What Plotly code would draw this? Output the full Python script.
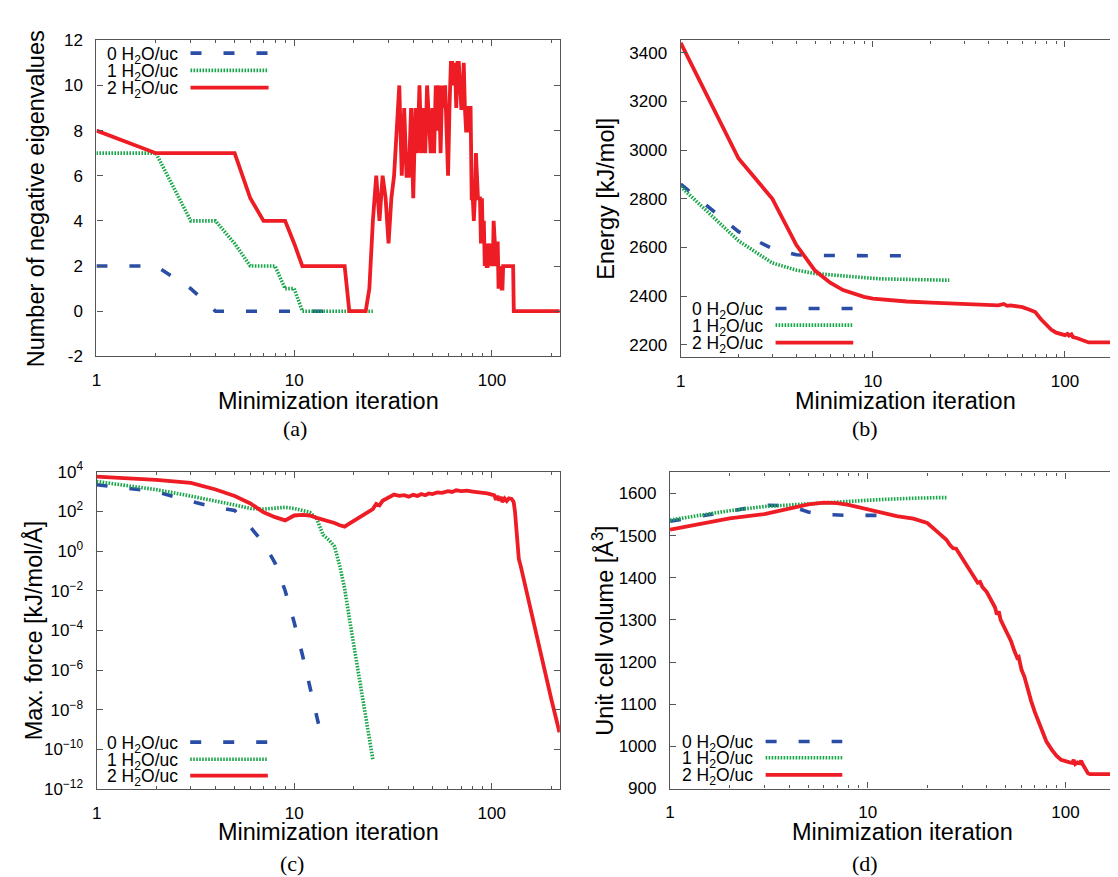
import math
import plotly.graph_objects as go

W, H = 1118, 877

# ---------------- data ----------------
# (a) number of negative eigenvalues
A_IT0 = [1, 2, 3, 4, 5, 6, 7, 8, 9, 10, 11, 12, 13, 14]
A_NEG0 = [2, 2, 1, 0, 0, 0, 0, 0, 0, 0, 0, 0, 0, 0]
A_IT1 = [1, 2, 3, 4, 5, 6, 7, 8, 9, 10, 11, 12, 13, 14, 15, 16, 17, 18, 19, 20, 21, 22, 23, 24, 25]
A_NEG1 = [7, 7, 4, 4, 3, 2, 2, 2, 1, 1, 0, 0, 0, 0, 0, 0, 0, 0, 0, 0, 0, 0, 0, 0, 0]
A_IT2 = list(range(1, 131)) + [220]
A_NEG2 = [8, 7, 7, 7, 7, 5, 4, 4, 4, 3,
          2, 2, 2, 2, 2, 2, 2, 2, 0, 0,
          0, 0, 0, 1, 4, 6, 4, 6, 5, 3,
          5, 6, 8, 10, 6, 9, 6, 6, 9, 5,
          9, 7, 10, 7, 9, 7, 10, 8, 7, 9,
          7, 10, 8, 10, 7, 10, 9, 10, 8, 6,
          9, 11, 11, 10, 11, 9, 11, 11, 10, 9,
          9, 11, 9, 8, 8, 9, 9, 9, 5, 5,
          4, 5, 7, 6, 5, 5, 5, 3, 5, 3,
          4, 2, 3, 2, 2, 3, 2, 2, 3, 2,
          2, 4, 3, 2, 2, 3, 3, 1, 2, 1,
          2, 1, 1, 2, 2, 2, 2, 2, 2, 2,
          2, 2, 2, 2, 2, 2, 2, 2, 0, 0,
          0]

# (b) energy [kJ/mol]
B_IT0 = A_IT0
B_E0 = [2860, 2665, 2595, 2570, 2567, 2566, 2566, 2566, 2566, 2566, 2566, 2566, 2566, 2566]
B_IT1 = A_IT1
B_E1 = [2850, 2627, 2536, 2507, 2493, 2487, 2483, 2480, 2477, 2473, 2471, 2470, 2469,
        2468, 2468, 2467, 2467, 2467, 2467, 2467, 2466, 2466, 2466, 2466, 2466]
B_IT2 = [1, 2, 3, 4, 5, 6, 7, 8, 9, 10, 12, 15, 20, 25, 30, 35, 40, 45, 48, 50,
         52, 55, 58, 60, 65, 70, 75, 80, 85, 90, 95, 100, 103, 105, 108, 110, 115, 120, 125, 130,
         133, 140, 220]
B_E2 = [3440, 2965, 2800, 2610, 2505, 2455, 2425, 2408, 2397, 2390, 2383, 2378, 2373, 2370, 2369,
        2366, 2363, 2362, 2368, 2360, 2362, 2358, 2357, 2355, 2345, 2335, 2305, 2280, 2262, 2250,
        2243, 2240, 2245, 2238, 2243, 2232, 2228, 2222, 2217, 2212, 2210, 2210, 2210]

# (c) max. force [kJ/mol/A]
C_IT0 = A_IT0
C_F0 = [2.2e3, 1.0e3, 3.2e2, 1.6e2, 1.1e2, 1.6e1, 2.5, 2.5e-1, 1.0e-2, 2.5e-4, 6e-6, 1.6e-7, 5e-9, 2e-10]
C_IT1 = A_IT1
C_F1 = [3.2e3, 1.25e3, 5.9e2, 3.4e2, 2.1e2, 1.4e2, 1.3e2, 1.45e2, 1.6e2, 1.4e2, 1.15e2, 9e1, 4.2e1,
        6.5, 3.6, 1.7, 1.8e-1, 1.3e-2, 4.3e-4, 2.1e-5, 1e-6, 7.4e-8, 5.2e-9, 3.7e-10, 3.2e-11]
C_IT2 = [1, 2, 3, 4, 5, 6, 7, 8, 9, 10, 11, 12, 13, 14, 15, 16, 17, 18, 19, 20,
         22, 24, 25, 26, 27, 28, 30, 32, 34, 36, 38, 40, 42, 44, 46, 48, 50, 53, 56, 60,
         63, 66, 70, 75, 80, 85, 90, 95, 100, 103, 105, 107, 109, 111, 113, 116, 119, 122, 126, 129,
         131, 133, 135, 137, 140, 150, 180, 200, 220]
C_F2 = [5.6e3, 3.9e3, 2.7e3, 1.26e3, 5.9e2, 2.5e2, 9e1, 5.1e1, 3.5e1, 6.2e1, 6.6e1, 6.2e1, 4.7e1,
        3.9e1, 3.2e1, 2.6e1, 2.0e1, 1.7e1, 2.4e1, 3.3e1,
        6e1, 1e2, 1.3e2, 2.4e2, 2e2, 3.4e2, 4.9e2, 7e2, 6e2, 6.5e2, 5.5e2, 6.8e2, 6e2, 7.5e2, 6.5e2,
        8e2, 7.5e2, 9e2, 8.5e2, 1.05e3,
        9.5e2, 1.15e3, 1.05e3, 1.1e3, 1.0e3, 9.5e2, 9e2, 8e2, 7e2, 6.5e2, 3.8e2, 6e2, 3.5e2, 5.5e2,
        3e2, 4.5e2, 3.3e2, 4.5e2, 4.2e2, 3e2,
        1e2, 2e1, 3, 4e-1, 1.8e-1, 8.7e-3, 3.2e-6, 3.5e-8, 7.4e-10]

# (d) unit cell volume [A^3]
D_IT0 = A_IT0
D_V0 = [1534, 1558, 1572, 1571, 1556, 1550, 1548, 1548, 1548, 1548, 1548, 1548, 1548, 1548]
D_IT1 = A_IT1
D_V1 = [1537, 1559, 1569, 1573, 1576, 1578, 1580, 1581, 1583, 1584, 1585, 1586, 1587, 1587,
        1588, 1588, 1589, 1589, 1589, 1590, 1590, 1590, 1590, 1590, 1590]
D_IT2 = [1, 2, 3, 4, 5, 6, 7, 8, 9, 10, 12, 14, 17, 20, 22, 25, 26, 27, 28, 30,
         32, 35, 36, 37, 38, 40, 42, 43, 44, 45, 46, 47, 50, 52, 53, 55, 57, 58, 60, 62,
         65, 67, 70, 72, 75, 78, 80, 85, 90, 95, 100, 105, 108, 110, 112, 115, 118, 120, 122, 125,
         130, 133, 220]
D_V2 = [1514, 1541, 1551, 1565, 1574, 1578, 1577, 1573, 1567, 1561, 1553, 1546, 1540, 1530, 1513,
        1490, 1478, 1470, 1469, 1447,
        1428, 1397, 1388, 1390, 1378, 1366, 1345, 1335, 1330, 1313, 1320, 1300, 1274, 1258, 1250,
        1228, 1210, 1212, 1181, 1165,
        1127, 1108, 1081, 1066, 1043, 1025, 1012, 993, 978, 968, 964, 962, 961, 968, 958, 962, 960,
        966, 958, 950,
        936, 934, 934]

SERIES_LABELS = ["0 H<sub>2</sub>O/uc", "1 H<sub>2</sub>O/uc", "2 H<sub>2</sub>O/uc"]
X_TICKS = [1, 10, 100]
X_MINOR = [2, 3, 4, 5, 6, 7, 8, 9, 20, 30, 40, 50, 60, 70, 80, 90, 200]

# ---------------- style ----------------
FONT = "Liberation Sans, Arial, Helvetica, sans-serif"
SERIF = "Liberation Serif, Times New Roman, serif"
BLUE = "#2a4ea6"
GREEN = "#1aa64a"
RED = "#ee1c24"
FRAME = "#555555"
STYLES = [dict(color=BLUE, width=3.6, dash="11px,22px"),
          dict(color=GREEN, width=3.6, dash="1.6px,1.4px"),
          dict(color=RED, width=3.8)]


def fx(p):
    return p / W


def fy(p):
    return 1 - p / H


panels = [
    dict(key="", box=(83.8, 549.5, 20.8, 345), xr=[0, math.log10(221)], right=True,
         data=[(A_IT0, A_NEG0), (A_IT1, A_NEG1), (A_IT2, A_NEG2)]),
    dict(key="2", box=(670.7, 1118, 21, 345.7), xr=[0, (1118 - 670.7) / 193.0], right=False,
         data=[(B_IT0, B_E0), (B_IT1, B_E1), (B_IT2, B_E2)]),
    dict(key="3", box=(84.0, 549.3, 463.3, 789), xr=[0, math.log10(221)], right=True,
         data=[(C_IT0, C_F0), (C_IT1, C_F1), (C_IT2, C_F2)]),
    dict(key="4", box=(660.0, 1118, 464, 788.3), xr=[0, (1118 - 660) / 198.6], right=False,
         data=[(D_IT0, D_V0), (D_IT1, D_V1), (D_IT2, D_V2)]),
]

fig = go.Figure()
layout = dict(width=W, height=H, margin=dict(l=0, r=0, t=0, b=0),
              paper_bgcolor="white", plot_bgcolor="white", showlegend=False,
              font=dict(family=FONT, size=17, color="black"))

yspecs = [
    dict(range=[-2, 12], tickvals=[-2, 0, 2, 4, 6, 8, 10, 12],
         ticktext=["-2", "0", "2", "4", "6", "8", "10", "12"]),
    dict(range=[2150, 3450], tickvals=[2200, 2400, 2600, 2800, 3000, 3200, 3400]),
    dict(type="log", range=[-12, 4],
         tickvals=[1e-12, 1e-10, 1e-8, 1e-6, 1e-4, 1e-2, 1, 1e2, 1e4],
         ticktext=["10<sup>\u221212</sup>", "10<sup>\u221210</sup>", "10<sup>\u22128</sup>",
                   "10<sup>\u22126</sup>", "10<sup>\u22124</sup>", "10<sup>\u22122</sup>",
                   "10<sup>0</sup>", "10<sup>2</sup>", "10<sup>4</sup>"]),
    dict(range=[900, 1650], tickvals=[900, 1000, 1100, 1200, 1300, 1400, 1500, 1600]),
]

for p, ys in zip(panels, yspecs):
    k = p["key"]
    x0, x1, y0, y1 = p["box"]
    xname, yname = "xaxis" + k, "yaxis" + k
    xref, yref = "x" + k, "y" + k
    layout[xname] = dict(
        type="log", range=p["xr"], domain=[fx(x0), fx(x1)], anchor=yref,
        tickvals=X_TICKS, ticktext=[str(v) for v in X_TICKS],
        ticks="inside", ticklen=6, tickwidth=1, tickcolor=FRAME,
        minor=dict(tickvals=X_MINOR, ticks="inside", ticklen=3, tickwidth=1, tickcolor=FRAME),
        showline=True, linecolor=FRAME, linewidth=1.3, mirror="allticks",
        showgrid=False, zeroline=False, ticklabelstandoff=8,
        tickfont=dict(family=FONT, size=17, color="black"))
    yd = dict(domain=[fy(y1), fy(y0)], anchor=xref,
              ticks="inside", ticklen=6, tickwidth=1, tickcolor=FRAME,
              showline=True, linecolor=FRAME, linewidth=1.3,
              mirror="allticks" if p["right"] else False,
              showgrid=False, zeroline=False, ticklabelstandoff=9,
              tickfont=dict(family=FONT, size=17, color="black"))
    yd.update(ys)
    layout[yname] = yd
    for (xs, vs), st in zip(p["data"], STYLES):
        fig.add_trace(go.Scatter(x=xs, y=vs, mode="lines", line=st, xaxis=xref, yaxis=yref,
                                 hoverinfo="skip"))

annotations = []
shapes = []

# axis titles
XT = [(317, 391), (897, 391), (317, 833), (893, 833)]
for (cx, cy) in XT:
    annotations.append(dict(text="Minimization iteration", x=fx(cx), y=fy(cy), xref="paper", yref="paper",
                            xanchor="center", yanchor="middle", showarrow=False,
                            font=dict(family=FONT, size=23.5, color="black")))
YT = [("Number of negative eigenvalues", 24, 183), ("Energy [kJ/mol]", 596, 183),
      ("Max. force [kJ/mol/\u00c5]", 20, 626), ("Unit cell volume [\u00c5<sup>3</sup>]", 593, 626)]
for (t, cx, cy) in YT:
    annotations.append(dict(text=t, x=fx(cx), y=fy(cy), xref="paper", yref="paper", textangle=-90,
                            xanchor="center", yanchor="middle", showarrow=False,
                            font=dict(family=FONT, size=23.5, color="black")))
# panel letters
for (t, cx, cy) in [("(a)", 283, 419), ("(b)", 856, 419), ("(c)", 280, 865), ("(d)", 856, 865)]:
    annotations.append(dict(text=t, x=fx(cx), y=fy(cy), xref="paper", yref="paper",
                            xanchor="center", yanchor="middle", showarrow=False,
                            font=dict(family=SERIF, size=22, color="black")))

# legends (gnuplot style: right-justified text followed by sample line)
LEG = [([34, 51.7, 69.3], 167.5, 178.3, 256.7),
       ([296, 313, 331], 755, 766, 844),
       ([740.7, 758.3, 775], 168, 178, 256),
       ([740, 756.7, 774.3], 745, 756, 833)]
for rows, tr, l0, l1 in LEG:
    for ry, lab, st in zip(rows, SERIES_LABELS, STYLES):
        annotations.append(dict(text=lab, x=fx(tr), y=fy(ry + 2), xref="paper", yref="paper",
                                xanchor="right", yanchor="middle", showarrow=False,
                                font=dict(family=FONT, size=17.5, color="black")))
        shapes.append(dict(type="line", xref="paper", yref="paper", x0=fx(l0), x1=fx(l1),
                           y0=fy(ry), y1=fy(ry), line=st))

layout["annotations"] = annotations
layout["shapes"] = shapes
fig.update_layout(**layout)
fig.write_html("out.html")
